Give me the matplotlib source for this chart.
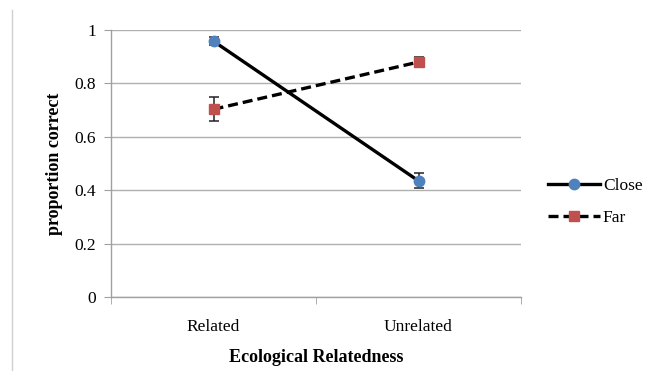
import matplotlib
matplotlib.use("Agg")
import matplotlib.pyplot as plt
from matplotlib.lines import Line2D

# Data
categories = ["Related", "Unrelated"]
close_vals = [0.958, 0.435]
close_err = [0.016, 0.028]
far_vals = [0.703, 0.880]
far_err = [0.045, 0.02]

plt.rcParams['font.family'] = ['Liberation Serif', 'DejaVu Serif']

fig = plt.figure(figsize=(6.54, 3.71), dpi=100)
ax = fig.add_axes([111 / 654, 74 / 371, 410 / 654, 267 / 371])

x = list(range(len(categories)))
dash = (0, (3, 1.5))

ax.errorbar(x, close_vals, yerr=close_err, color='black', lw=2.4,
            marker='o', markersize=7.5, markerfacecolor='#4F81BD',
            markeredgecolor='#4F81BD', ecolor='#222222', elinewidth=1.1,
            capsize=3.5, capthick=1.1, zorder=3)
ax.errorbar(x, far_vals, yerr=far_err, color='black', lw=2.4, ls=dash,
            marker='s', markersize=7.5, markerfacecolor='#C0504D',
            markeredgecolor='#C0504D', ecolor='#222222', elinewidth=1.1,
            capsize=3.5, capthick=1.1, zorder=3)

ax.set_xlim(-0.5, 1.5)
ax.set_ylim(0, 1)
ax.set_yticks([0, 0.2, 0.4, 0.6, 0.8, 1.0])
ax.set_yticklabels(["0", "0.2", "0.4", "0.6", "0.8", "1"])
ax.set_xticks(x)
ax.set_xticklabels(categories)
ax.set_xticks([-0.5, 0.5, 1.5], minor=True)
ax.tick_params(axis='x', which='major', length=0, pad=16, labelsize=12.5)
ax.tick_params(axis='x', which='minor', length=5, color='#A0A0A0', direction='out')
ax.tick_params(axis='y', length=5, color='#A0A0A0', labelsize=12.5, pad=6)

ax.grid(axis='y', color='#B0B0B0', lw=1)
ax.set_axisbelow(True)
for s in ['top', 'right']:
    ax.spines[s].set_visible(False)
for s in ['left', 'bottom']:
    ax.spines[s].set_color('#A0A0A0')
    ax.spines[s].set_linewidth(1)

ax.set_ylabel("proportion correct", fontweight='bold', fontsize=13, labelpad=8)
ax.set_xlabel("Ecological Relatedness", fontweight='bold', fontsize=13, labelpad=10)

handles = [
    Line2D([], [], color='black', lw=2.4, marker='o', markersize=7.5,
           markerfacecolor='#4F81BD', markeredgecolor='#4F81BD'),
    Line2D([], [], color='black', lw=2.4, ls=dash, marker='s', markersize=7.5,
           markerfacecolor='#C0504D', markeredgecolor='#C0504D'),
]
ax.legend(handles, ["Close", "Far"], loc='center left',
          bbox_to_anchor=(1.028, 0.355), frameon=False, fontsize=12.5,
          handlelength=3.0, handletextpad=0.15, labelspacing=0.9, numpoints=1)

# thin border line on the left edge
fig.add_artist(Line2D([12 / 654, 12 / 654], [0, 361 / 371], color='#D0D0D0', lw=1))

fig.savefig("out.png", dpi=100)
